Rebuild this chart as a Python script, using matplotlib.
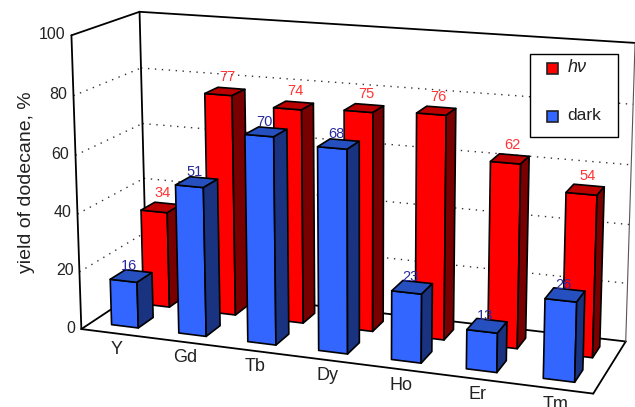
import numpy as np
import matplotlib
matplotlib.use("Agg")
import matplotlib.pyplot as plt
from matplotlib.patches import Polygon, Rectangle

plt.rcParams['font.family'] = ['Liberation Sans', 'DejaVu Sans']

categories = ['Y', 'Gd', 'Tb', 'Dy', 'Ho', 'Er', 'Tm']
hv_values = [34, 77, 74, 75, 76, 62, 54]
dark_values = [16, 51, 70, 68, 23, 13, 26]
z_ticks = [0, 20, 40, 60, 80, 100]

RED = ('#ff0000', '#bb0000', '#780000')
BLUE = ('#3366ff', '#2650c0', '#1a3380')
RED_TXT = '#ff3333'
BLUE_TXT = '#2a2a9f'
TXT = '#222222'

# camera: fit a projective matrix to the corners of the plot box
box_world = [(0, 0, 0), (7, 0, 0), (0, 1, 0), (7, 1, 0), (0, 0, 100), (0, 1, 100), (7, 1, 100)]
box_pixel = [(82, 329), (593, 394), (146, 286), (626, 341), (71, 35), (140, 12), (635, 43)]
rows = []
for (X, Y, Z), (u, v) in zip(box_world, box_pixel):
    Z = Z / 100
    rows.append([X, Y, Z, 1, 0, 0, 0, 0, -u * X, -u * Y, -u * Z, -u])
    rows.append([0, 0, 0, 0, X, Y, Z, 1, -v * X, -v * Y, -v * Z, -v])
P = np.linalg.svd(np.array(rows, float))[2][-1].reshape(3, 4)


def proj(x, y, z):
    h = P @ np.array([x, y, z / 100, 1.0])
    return (h[0] / h[2], h[1] / h[2])


fig = plt.figure(figsize=(6.35, 4.07), dpi=100)
ax = fig.add_axes([0, 0, 1, 1])
ax.set_xlim(0, 635)
ax.set_ylim(407, 0)
ax.axis('off')


def line(a, b, **kw):
    ax.plot([a[0], b[0]], [a[1], b[1]], solid_capstyle='round', **kw)


# grid on the walls
for z in z_ticks[1:-1]:
    dots = dict(color='#333333', lw=1.0, ls=(0, (1, 4)), zorder=1)
    line(proj(0, 0, z), proj(0, 1, z), **dots)
    line(proj(0, 1, z), proj(7, 1, z), **dots)

# box
black = dict(color='black', lw=1.3, zorder=2)
line(proj(0, 0, 0), proj(0, 0, 100), **black)
line(proj(0, 1, 0), proj(0, 1, 100), **black)
line(proj(0, 0, 100), proj(0, 1, 100), **black)
line(proj(0, 1, 100), proj(7, 1, 100), **black)
line(proj(0, 0, 0), proj(7, 0, 0), **black)
line(proj(0, 0, 0), proj(0, 1, 0), **black)
line(proj(0, 1, 0), proj(7, 1, 0), **black)
line(proj(7, 0, 0), proj(7, 1, 0), **black)
line(proj(7, 1, 0), proj(7, 1, 100), color='#555555', lw=0.8, zorder=2)

# tick labels
for z in z_ticks:
    u, v = proj(0, 0, z)
    ax.text(u - 6, v - 1, str(z), ha='right', va='center', fontsize=11.5, color=TXT)
ax.text(27, 182, 'yield of dodecane, %', rotation=90, ha='center', va='center',
        fontsize=14, color=TXT)
for i, c in enumerate(categories):
    u, v = proj(i + 0.5, 0, 0)
    ax.text(u + 2, v + 16, c, ha='center', va='center', fontsize=13, color=TXT)


def bar(i, z, y0, y1, shift, cols, txt, off, zo):
    w = 0.2
    x0, x1 = i + 0.5 + shift - w, i + 0.5 + shift + w
    kw = dict(edgecolor='black', lw=1.2, joinstyle='round', zorder=zo)
    ax.add_patch(Polygon([proj(x0, y0, 0), proj(x1, y0, 0), proj(x1, y0, z), proj(x0, y0, z)],
                         facecolor=cols[0], **kw))
    ax.add_patch(Polygon([proj(x0, y0, z), proj(x1, y0, z), proj(x1, y1, z), proj(x0, y1, z)],
                         facecolor=cols[1], **kw))
    ax.add_patch(Polygon([proj(x1, y0, 0), proj(x1, y1, 0), proj(x1, y1, z), proj(x1, y0, z)],
                         facecolor=cols[2], **kw))
    u, v = proj(i + 0.5 + shift, (y0 + y1) / 2, z)
    ax.text(u + off[0], v + off[1], str(z), ha='center', va='center', fontsize=10.5, color=txt, zorder=20)


for i, z in enumerate(hv_values):
    bar(i, z, 0.62, 0.84, 0.02, RED, RED_TXT, (2, -14), 5 + i * 0.01)
for i, z in enumerate(dark_values):
    bar(i, z, 0.15, 0.38, 0.0, BLUE, BLUE_TXT, (-2, -10), 8 + i * 0.01)

# legend
ax.add_patch(Rectangle((529.5, 53.5), 88, 83, facecolor='white', edgecolor='black', lw=1.0, zorder=12))
ax.add_patch(Rectangle((547, 63), 11, 11, facecolor=RED[0], edgecolor='#222222', lw=1.2, zorder=13))
ax.add_patch(Rectangle((547, 111), 11, 11, facecolor=BLUE[0], edgecolor='#222222', lw=1.2, zorder=13))
ax.text(568, 67.5, 'h\u03bd', style='italic', ha='left', va='center', fontsize=13, color=TXT, zorder=13)
ax.text(567.5, 116, 'dark', ha='left', va='center', fontsize=12.5, color=TXT, zorder=13)

fig.savefig('out.png', dpi=100)
